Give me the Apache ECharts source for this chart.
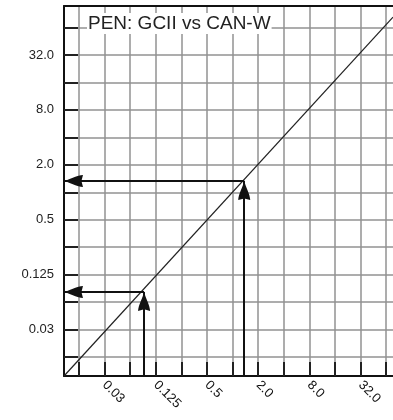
<!DOCTYPE html>
<html>
<head>
<meta charset="utf-8">
<script src="https://cdn.jsdelivr.net/npm/echarts@6/dist/echarts.min.js"></script>
<style>
  html, body { margin: 0; padding: 0; background: #fff; }
  #chart { width: 393px; height: 420px; }
</style>
</head>
<body>
<div id="chart"></div>
<script>
// Chart title
const chartTitle = 'PEN: GCII vs CAN-W';

// Axis ranges (both axes are base-2 logarithmic)
const xRange = [0.0104, 77];
const yRange = [0.0097, 110];

// Grid / tick positions: every doubling
const gridValues = [0.015625, 0.03125, 0.0625, 0.125, 0.25, 0.5, 1, 2, 4, 8, 16, 32, 64];

// Labelled tick values and their printed text
const tickValues = [0.03125, 0.125, 0.5, 2, 8, 32];
const tickLabels = ['0.03', '0.125', '0.5', '2.0', '8.0', '32.0'];

// Equivalence line endpoints
const lineX = [0.0104, 77];
const lineY = [0.0097, 83];

// Worked read-offs: value on the x scale and the matching value on the y scale
const readX = [0.091, 1.37];
const readY = [0.081, 1.33];

function tickLabel(v) {
  const e = Math.log2(v);
  for (let i = 0; i < tickValues.length; i++) {
    if (Math.abs(Math.log2(tickValues[i]) - e) < 1e-3) return tickLabels[i];
  }
  return '';
}

const arrowLines = [];
for (let i = 0; i < readX.length; i++) {
  // horizontal read-off towards the y axis
  arrowLines.push([{ coord: [readX[i], readY[i]] }, { coord: [xRange[0], readY[i]] }]);
  // vertical lead-in from the x axis up to the line
  arrowLines.push([{ coord: [readX[i], yRange[0]] }, { coord: [readX[i], readY[i]] }]);
}

const font = 'Liberation Sans, Arial, sans-serif';
const gridStyle = { color: '#929292', width: 1.5 };
const axisStyle = { color: '#111', width: 2 };
const tickStyle = { color: '#222', width: 2 };
// solid arrowhead, tip at the top of its box
const arrowHead = 'path://M5,0C6,5 10,13 10,18L5,16.5L0,18C0,13 4,5 5,0Z';

const chart = echarts.init(document.getElementById('chart'), null, { renderer: 'canvas' });
chart.setOption({
  backgroundColor: '#fff',
  animation: false,
  title: {
    text: chartTitle,
    left: 87,
    top: 13,
    padding: [1, 1],
    backgroundColor: '#fff',
    textStyle: { fontFamily: font, fontSize: 19, fontWeight: 'normal', color: '#222' }
  },
  grid: { left: 64, right: 0, top: 6, bottom: 44, containLabel: false },
  xAxis: [
    {
      type: 'log',
      logBase: 2,
      min: xRange[0],
      max: xRange[1],
      axisLine: { show: true, lineStyle: axisStyle },
      axisTick: { show: true, inside: true, length: 14, lineStyle: tickStyle, customValues: gridValues },
      splitLine: { show: true, lineStyle: gridStyle },
      axisLabel: {
        rotate: -45, margin: 7, fontFamily: font, fontSize: 13, color: '#111',
        customValues: tickValues,
        formatter: tickLabel
      }
    },
    {
      type: 'log',
      logBase: 2,
      position: 'top',
      min: xRange[0],
      max: xRange[1],
      axisLine: { show: true, lineStyle: axisStyle },
      axisTick: { show: false },
      axisLabel: { show: false },
      splitLine: { show: false }
    }
  ],
  yAxis: {
    type: 'log',
    logBase: 2,
    min: yRange[0],
    max: yRange[1],
    axisLine: { show: true, lineStyle: axisStyle },
    axisTick: { show: true, inside: true, length: 14, lineStyle: tickStyle, customValues: gridValues },
    splitLine: { show: true, lineStyle: gridStyle },
    axisLabel: {
      margin: 10, fontFamily: font, fontSize: 13, color: '#222',
      customValues: tickValues,
      formatter: tickLabel
    }
  },
  series: [
    {
      type: 'line',
      xAxisIndex: 0,
      data: lineX.map((x, i) => [x, lineY[i]]),
      symbol: 'none',
      silent: true,
      lineStyle: { color: '#222', width: 1.2 },
      markLine: {
        silent: true,
        animation: false,
        symbol: ['none', arrowHead],
        symbolSize: [12, 19],
        symbolOffset: [[0, 0], [0, '50%']],
        label: { show: false },
        lineStyle: { color: '#111', width: 2, type: 'solid' },
        emphasis: { disabled: true },
        data: arrowLines
      }
    }
  ]
});
</script>
</body>
</html>
